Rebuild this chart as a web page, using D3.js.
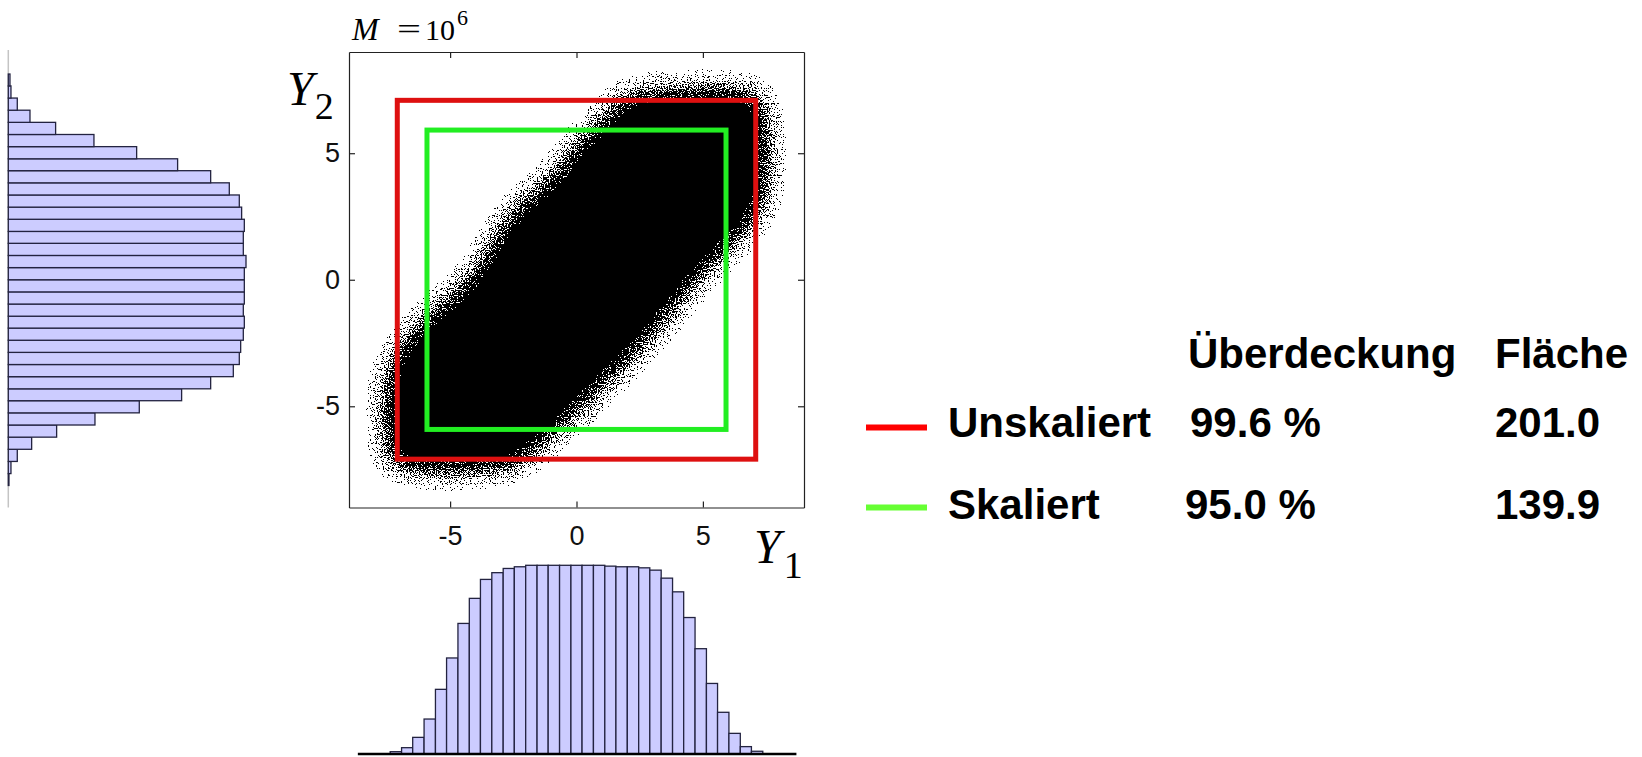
<!DOCTYPE html>
<html>
<head>
<meta charset="utf-8">
<script src="https://cdn.jsdelivr.net/npm/d3@7/dist/d3.min.js"></script>
<style>
  html, body { margin: 0; padding: 0; background: #fff; }
  svg { display: block; }
</style>
</head>
<body>
<script>
// ---------------- data ----------------
const axisTicks = [-5, 0, 5];
const axisDomain = [-9, 9];

// marginal histogram of Y1 (bottom): bin edges and counts
const y1BinEdges = [-7.37, -6.92, -6.48, -6.03, -5.58, -5.14, -4.69, -4.24, -3.80, -3.35, -2.90,
  -2.46, -2.01, -1.56, -1.12, -0.67, -0.22, 0.22, 0.67, 1.12, 1.56, 2.01, 2.46, 2.90, 3.35,
  3.80, 4.24, 4.69, 5.14, 5.58, 6.03, 6.48, 6.92, 7.37];
const y1Counts = [550, 1500, 3950, 8300, 15350, 22800, 31000, 36950, 41450, 43050, 44050,
  44450, 44800, 44800, 44800, 44800, 44800, 44800, 44800, 44600, 44450, 44450, 44200, 43650,
  41750, 38500, 32400, 25000, 16750, 9900, 4900, 1750, 650];

// marginal histogram of Y2 (left): bin edges and counts (low -> high Y2)
const y2BinEdges = [-8.13, -7.66, -7.18, -6.70, -6.22, -5.74, -5.26, -4.78, -4.31, -3.83, -3.35,
  -2.87, -2.39, -1.91, -1.44, -0.96, -0.48, 0, 0.48, 0.96, 1.44, 1.91, 2.39, 2.87, 3.35, 3.83,
  4.31, 4.78, 5.26, 5.74, 6.22, 6.70, 7.18, 7.66, 8.13];
const y2Counts = [130, 525, 1770, 4600, 9520, 17070, 25800, 34140, 39860, 44320, 45500, 45770,
  46290, 46490, 46290, 46490, 46490, 46490, 46820, 46290, 46290, 46490, 45960, 45500, 43530,
  39860, 33350, 25280, 16870, 9320, 4270, 1770, 525, 330];

// 50%-density contour of the 10^6-sample point cloud (Y1, Y2)
const cloudContour = [[1.05, 6.35], [1.6, 7.1], [2.8, 7.5], [4.5, 7.6], [6.0, 7.6], [7.1, 7.4],
  [7.5, 6.6], [7.6, 4.5], [7.4, 3.0], [6.6, 1.8], [5.6, 0.8], [4.6, -0.3], [3.6, -1.5],
  [2.5, -2.8], [1.1, -4.2], [-0.2, -5.5], [-1.4, -6.6], [-2.5, -7.4], [-4.0, -7.6],
  [-6.0, -7.6], [-7.3, -7.3], [-7.6, -6.2], [-7.6, -4.3], [-7.35, -3.3], [-6.3, -1.8],
  [-4.25, 0.1], [-2.6, 2.6], [-1.0, 4.1], [0.15, 5.55]];

// bounding boxes (half side length) and table
const boxNames = ["Unskaliert", "Skaliert"];
const boxHalfSides = [7.09, 5.915];
const boxCoverage = ["99.6 %", "95.0 %"];
const boxArea = ["201.0", "139.9"];
const tableHeaders = ["Überdeckung", "Fläche"];
const sampleBase = "10";
const sampleExponent = "6";

// ---------------- styles ----------------
const boxColors = ["#de1010", "#22ee22"];
const legendColors = ["#ff0000", "#66ff33"];
const barFill = "#ccccff";
const barStroke = "#232340";

// ---------------- drawing ----------------
const W = 1642, H = 757;
const svg = d3.select("body").append("svg").attr("width", W).attr("height", H);
const defs = svg.append("defs");

const x = d3.scaleLinear().domain(axisDomain).range([349, 804]);
const y = d3.scaleLinear().domain(axisDomain).range([507.5, 52]);

defs.append("clipPath").attr("id", "plotClip").append("rect")
  .attr("x", x(-9)).attr("y", y(9)).attr("width", x(9) - x(-9)).attr("height", y(-9) - y(9));

// speckle filter: blurred density + stretched noise, thresholded
const f = defs.append("filter").attr("id", "speckle")
  .attr("filterUnits", "userSpaceOnUse")
  .attr("x", 330).attr("y", 30).attr("width", 500).attr("height", 500)
  .attr("color-interpolation-filters", "sRGB");
f.append("feGaussianBlur").attr("in", "SourceAlpha").attr("stdDeviation", 13).attr("result", "blur");
f.append("feTurbulence").attr("type", "fractalNoise").attr("baseFrequency", 0.85)
  .attr("numOctaves", 1).attr("seed", 11).attr("result", "turb");
f.append("feColorMatrix").attr("in", "turb").attr("type", "matrix")
  .attr("values", "0 0 0 0 0  0 0 0 0 0  0 0 0 0 0  1 0 0 0 0").attr("result", "noiseA");
const st = f.append("feComponentTransfer").attr("in", "noiseA").attr("result", "noiseS");
st.append("feFuncA").attr("type", "linear").attr("slope", 3).attr("intercept", -1);
f.append("feComposite").attr("in", "blur").attr("in2", "noiseS").attr("operator", "arithmetic")
  .attr("k1", 0).attr("k2", 1.3).attr("k3", 1).attr("k4", -0.6).attr("result", "sum");
const ct = f.append("feComponentTransfer").attr("in", "sum").attr("result", "th");
ct.append("feFuncA").attr("type", "discrete").attr("tableValues", "0 1");
f.append("feFlood").attr("flood-color", "#000").attr("result", "black");
f.append("feComposite").attr("in", "black").attr("in2", "th").attr("operator", "in");

// point cloud
svg.append("g").attr("clip-path", "url(#plotClip)")
  .append("path").datum(cloudContour)
  .attr("d", d3.line().x(d => x(d[0])).y(d => y(d[1])).curve(d3.curveCatmullRomClosed.alpha(0.5)))
  .attr("fill", "#000").attr("filter", "url(#speckle)");

// boxes
svg.append("g").selectAll("rect").data(boxHalfSides).join("rect")
  .attr("x", d => x(-d)).attr("y", d => y(d))
  .attr("width", d => x(d) - x(-d)).attr("height", d => y(-d) - y(d))
  .attr("fill", "none").attr("stroke", (d, i) => boxColors[i]).attr("stroke-width", 5);

// axes (MATLAB style: inward ticks on all sides)
const tickFont = "Liberation Sans, Arial, sans-serif";
const fmt = d => String(d);
function styleAxis(g) {
  g.select(".domain").attr("stroke", "#222").attr("stroke-width", 1.2);
  g.selectAll(".tick line").attr("stroke", "#222").attr("stroke-width", 1.2);
  g.selectAll(".tick text").attr("font-family", tickFont).attr("font-size", 27).attr("fill", "#111");
}
svg.append("g").attr("transform", `translate(0,${y(-9)})`)
  .call(d3.axisBottom(x).tickValues(axisTicks).tickFormat(fmt).tickSize(-6).tickSizeOuter(0).tickPadding(18))
  .call(styleAxis);
svg.append("g").attr("transform", `translate(0,${y(9)})`)
  .call(d3.axisTop(x).tickValues(axisTicks).tickSize(-6).tickSizeOuter(0).tickFormat(() => ""))
  .call(styleAxis);
svg.append("g").attr("transform", `translate(${x(-9)},0)`)
  .call(d3.axisLeft(y).tickValues(axisTicks).tickFormat(fmt).tickSize(-6).tickSizeOuter(0).tickPadding(9))
  .call(styleAxis);
svg.append("g").attr("transform", `translate(${x(9)},0)`)
  .call(d3.axisRight(y).tickValues(axisTicks).tickSize(-6).tickSizeOuter(0).tickFormat(() => ""))
  .call(styleAxis);
svg.selectAll(".tick text").attr("font-family", tickFont).attr("font-size", 27);

// axis labels
const serif = "Liberation Serif, Times New Roman, serif";
function varLabel(px, py, sub, subDx, subDy) {
  const t = svg.append("text").attr("x", px).attr("y", py).attr("font-family", serif).attr("fill", "#000");
  t.append("tspan").attr("font-style", "italic").attr("font-size", 48).text("Y");
  t.append("tspan").attr("font-size", 38).attr("dx", subDx).attr("dy", subDy).text(sub);
}
varLabel(287, 105, "2", 1, 14);
varLabel(754, 563, "1", 3, 15);

// title M = 10^6
const tg = svg.append("g").attr("font-family", serif).attr("fill", "#000");
tg.append("text").attr("x", 352).attr("y", 40).attr("font-size", 32).attr("font-style", "italic").text("M");
tg.append("text").attr("x", 397).attr("y", 39).attr("font-size", 30)
  .attr("textLength", 24).attr("lengthAdjust", "spacingAndGlyphs").text("=");
tg.append("text").attr("x", 425).attr("y", 40).attr("font-size", 30).text(sampleBase);
tg.append("text").attr("x", 457).attr("y", 25).attr("font-size", 22).text(sampleExponent);

// bottom histogram (Y1)
const hy = d3.scaleLinear().domain([0, 44800]).range([754, 565.3]);
svg.append("g").selectAll("rect").data(y1Counts).join("rect")
  .attr("x", (d, i) => x(y1BinEdges[i]))
  .attr("width", (d, i) => x(y1BinEdges[i + 1]) - x(y1BinEdges[i]))
  .attr("y", d => hy(d)).attr("height", d => hy(0) - hy(d))
  .attr("fill", barFill).attr("stroke", barStroke).attr("stroke-width", 1.3);
svg.append("line").attr("x1", x(-8.65)).attr("x2", x(8.7)).attr("y1", hy(0)).attr("y2", hy(0))
  .attr("stroke", "#000").attr("stroke-width", 2.5);

// left histogram (Y2), horizontal bars
const hx = d3.scaleLinear().domain([0, 46820]).range([8.3, 246]);
svg.append("line").attr("x1", hx(0)).attr("x2", hx(0)).attr("y1", 50).attr("y2", y(-9))
  .attr("stroke", "#c4c4c4").attr("stroke-width", 1.5);
svg.append("g").selectAll("rect").data(y2Counts).join("rect")
  .attr("x", hx(0))
  .attr("width", d => hx(d) - hx(0))
  .attr("y", (d, i) => y(y2BinEdges[i + 1]))
  .attr("height", (d, i) => y(y2BinEdges[i]) - y(y2BinEdges[i + 1]))
  .attr("fill", barFill).attr("stroke", barStroke).attr("stroke-width", 1.3);

// legend / table
const sans = "Liberation Sans, Arial, sans-serif";
const lg = svg.append("g").attr("font-family", sans).attr("font-weight", "bold")
  .attr("font-size", 42).attr("fill", "#000");
const headerX = [1188, 1495];
lg.selectAll("text.hdr").data(tableHeaders).join("text").attr("class", "hdr")
  .attr("x", (d, i) => headerX[i]).attr("y", 368).text(d => d);
const rowY = [436.5, 518.5];
const lineY = [427.5, 507.5];
const covX = [1190, 1185];
boxNames.forEach((name, i) => {
  lg.append("line").attr("x1", 866).attr("x2", 927).attr("y1", lineY[i]).attr("y2", lineY[i])
    .attr("stroke", legendColors[i]).attr("stroke-width", 6);
  lg.append("text").attr("x", 948).attr("y", rowY[i]).text(name);
  lg.append("text").attr("x", covX[i]).attr("y", rowY[i]).text(boxCoverage[i]);
  lg.append("text").attr("x", 1495).attr("y", rowY[i]).text(boxArea[i]);
});
</script>
</body>
</html>
